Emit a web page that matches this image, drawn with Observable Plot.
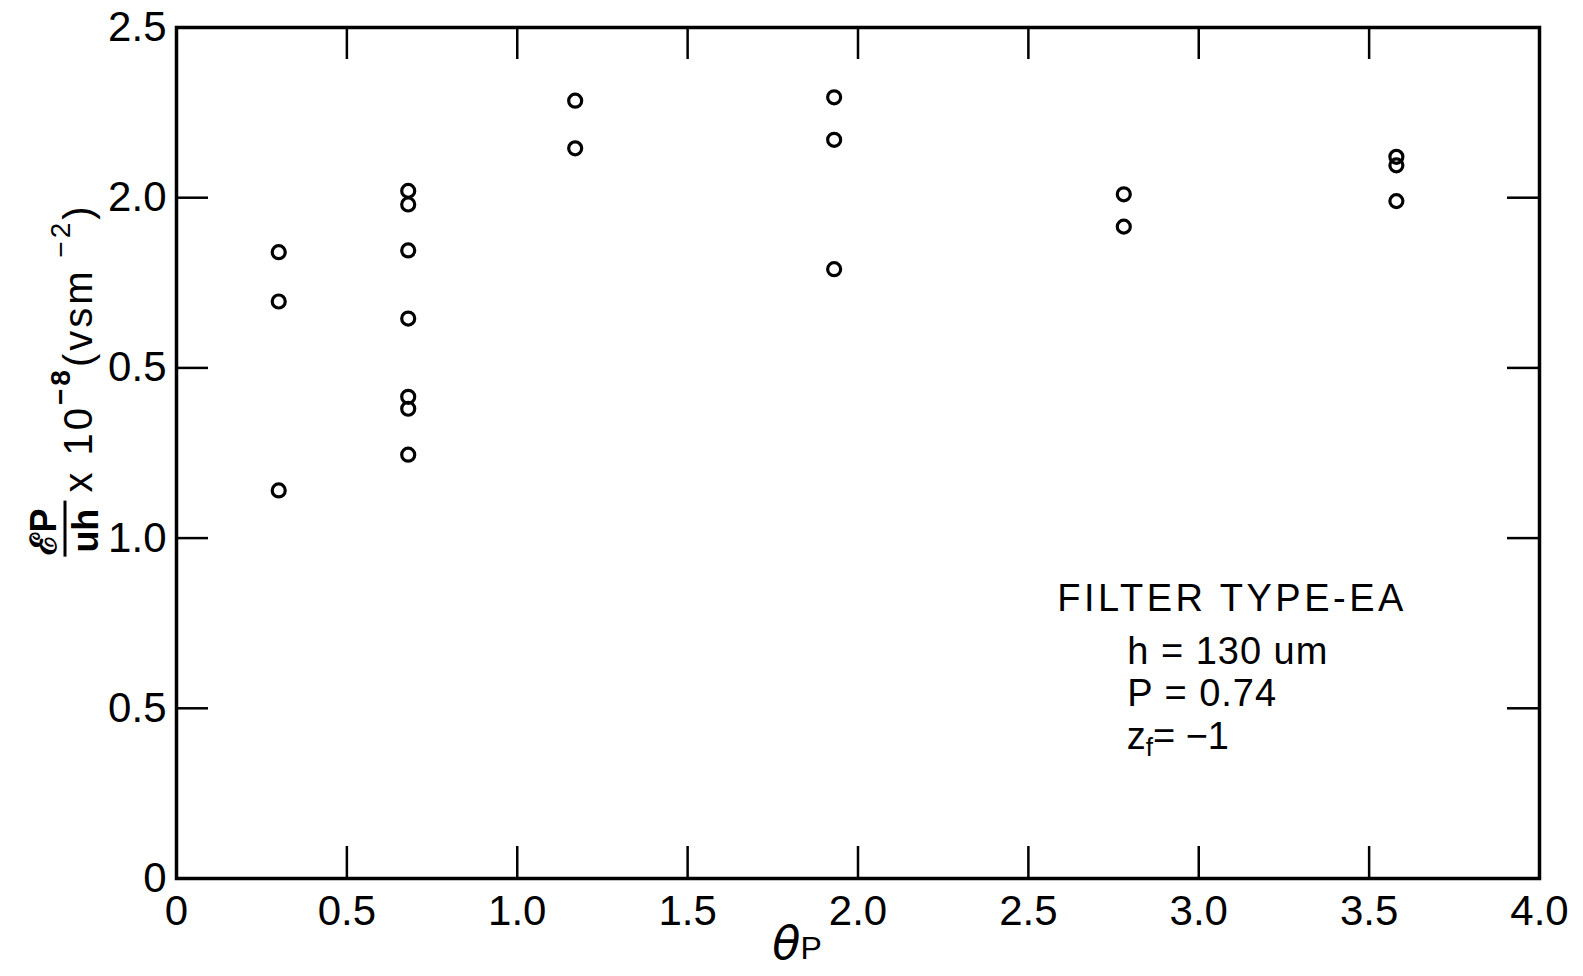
<!DOCTYPE html>
<html><head><meta charset="utf-8">
<script src="https://cdn.jsdelivr.net/npm/d3@7"></script>
<script src="https://cdn.jsdelivr.net/npm/@observablehq/plot@0.6"></script>
<style>
body{margin:0;background:#fff;}
#chart svg{display:block;}
</style></head><body><div id="chart"></div>
<script>
// Data
const thetaP = [0.3,0.3,0.3, 0.68,0.68,0.68,0.68,0.68,0.68,0.68, 1.17,1.17, 1.93,1.93,1.93, 2.78,2.78, 3.58,3.58,3.58];
const value  = [1.84,1.695,1.14, 2.02,1.98,1.845,1.645,1.415,1.38,1.245, 2.285,2.145, 2.295,2.17,1.79, 2.01,1.915, 2.12,2.095,1.99];
const xTicks = [0,0.5,1,1.5,2,2.5,3,3.5,4];
const xTickLabels = ["0","0.5","1.0","1.5","2.0","2.5","3.0","3.5","4.0"];
const yTicks = [0,0.5,1,1.5,2,2.5];
const yTickLabels = ["0","0.5","1.0","0.5","2.0","2.5"];
const noteLines = ["FILTER TYPE-EA","h = 130 um","P = 0.74"];

const W = 1583, H = 976;
const mL = 176, mR = 44, mT = 27, mB = 98;
const pW = W - mL - mR, pH = H - mT - mB;
const tickLen = 32;
const font = "'Liberation Sans', Arial, sans-serif";

const pts = thetaP.map((x, i) => ({x, y: value[i]}));

const plot = Plot.plot({
  width: W, height: H,
  marginLeft: mL, marginRight: mR, marginTop: mT, marginBottom: mB,
  style: {fontFamily: font, color: "#000", background: "#fff"},
  x: {domain: [0, 4]},
  y: {domain: [0, 2.5]},
  marks: [
    Plot.axisX(xTicks, {tickSize: 0, tickPadding: 17, fontSize: 42, tickFormat: (d) => xTickLabels[xTicks.indexOf(d)], label: null}),
    Plot.axisY(yTicks, {tickSize: 0, tickPadding: 10, fontSize: 42, tickFormat: (d) => yTickLabels[yTicks.indexOf(d)], label: null}),
    Plot.tickY(yTicks, {y: d => d, insetRight: pW - tickLen, strokeWidth: 2.5}),
    Plot.tickY(yTicks, {y: d => d, insetLeft: pW - tickLen, strokeWidth: 2.5}),
    Plot.tickX(xTicks, {x: d => d, insetTop: pH - tickLen, strokeWidth: 2.5}),
    Plot.tickX(xTicks, {x: d => d, insetBottom: pH - tickLen, strokeWidth: 2.5}),
    Plot.frame({stroke: "#000", strokeWidth: 3.5}),
    Plot.dot(pts, {x: "x", y: "y", r: 6.5, stroke: "#000", strokeWidth: 3.2, fill: "none"}),
    Plot.text(noteLines, {
      x: (d, i) => i === 0 ? 2.585 : 2.79,
      y: (d, i) => [0.785, 0.630, 0.508][i],
      text: d => d, textAnchor: "start", lineAnchor: "bottom",
      fontSize: 38, fill: "#000"
    })
  ]
});

document.getElementById("chart").appendChild(plot);
const svg = d3.select(plot);
const sx = plot.scale("x").apply, sy = plot.scale("y").apply;

// letter spacing for the note lines
svg.selectAll("text").filter(function() { return noteLines.includes(this.textContent); })
  .attr("letter-spacing", function() { return this.textContent === noteLines[0] ? 3.5 : 1; });

// z_f = -1 line
const zt = svg.append("text").attr("x", sx(2.79)).attr("y", sy(0.378))
  .attr("text-anchor", "start")
  .attr("font-family", font).attr("font-size", 38).attr("fill", "#000");
zt.append("tspan").text("z");
zt.append("tspan").attr("dy", 7).attr("font-size", 26).text("f");
zt.append("tspan").attr("dy", -7).text("= \u22121");

// x-axis label θP
const xl = svg.append("text").attr("x", sx(1.75)).attr("y", H - 17)
  .attr("text-anchor", "start")
  .attr("font-family", "'DejaVu Sans', sans-serif").attr("fill", "#000");
xl.append("tspan").attr("font-size", 46).attr("font-style", "italic").text("\u03B8");
xl.append("tspan").attr("font-size", 32).attr("font-family", font).text("P");

// y-axis label
const g = svg.append("g").attr("transform", `translate(96, ${sy(0.95)}) rotate(-90)`)
  .attr("text-anchor", "start")
  .attr("font-family", font).attr("fill", "#000");
g.append("text").attr("x", 0).attr("y", -40).attr("font-size", 36).attr("font-weight", "bold").text("\u2130P");
g.append("line").attr("x1", -2).attr("x2", 54).attr("y1", -31).attr("y2", -31).attr("stroke", "#000").attr("stroke-width", 3);
g.append("text").attr("x", 2).attr("y", 2).attr("font-size", 36).attr("font-weight", "bold").text("uh");
const lt = g.append("text").attr("x", 62).attr("y", -4).attr("font-size", 40).attr("letter-spacing", 3);
lt.append("tspan").text("x 10");
lt.append("tspan").attr("dy", -22).attr("font-size", 28).attr("font-weight", "bold").text("\u22128");
lt.append("tspan").attr("dy", 22).text("(vsm");
lt.append("tspan").attr("dy", -22).attr("font-size", 28).text(" \u22122");
lt.append("tspan").attr("dy", 22).text(")");
</script>
</body></html>
